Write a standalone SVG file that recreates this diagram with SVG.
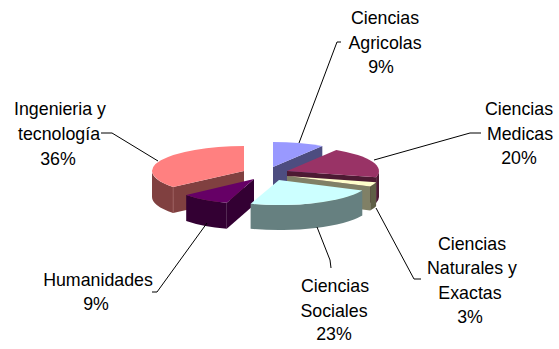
<svg xmlns="http://www.w3.org/2000/svg" width="559" height="349" viewBox="0 0 559 349">
<style>
text{font-family:"Liberation Sans",Arial,sans-serif;font-size:17.8px;fill:#000;text-anchor:middle}
.ld{fill:none;stroke:#000;stroke-width:1}
</style>
<rect width="559" height="349" fill="#fff"/>
<g id="agricolas">
<path d="M273,167 L322.3,145.9 L322.3,171 L273,192 Z" fill="#4D4D80"/>
<path d="M273,167 L273,142 A92,25 0 0 1 322.3,145.9 Z" fill="#9999FF"/>
</g>
<g id="ingenieria">
<path d="M173.1,186.9 A92,25 0 0 1 152,171 L152,197 A92,25 0 0 0 173.1,212.9 Z" fill="#804040"/>
<path d="M244,171 L173.1,186.9 L173.1,212.9 L244,197 Z" fill="#804040"/>
<line x1="173.1" y1="187" x2="173.1" y2="212.9" stroke="#a06060" stroke-width="0.8"/>
<path d="M244,171 L173.1,186.9 A92,25 0 0 1 244,146 Z" fill="#FF8080"/>
</g>
<g id="medicas">
<path d="M287,171 L376.1,177.2 L376.1,203 L287,197 Z" fill="#4D1A33"/>
<path d="M379,171 A92,25 0 0 1 376.1,177.2 L376.1,203 A92,25 0 0 0 379,197 Z" fill="#4D1A33"/>
<path d="M287,171 L336.3,149.9 A92,25 0 0 1 376.1,177.2 Z" fill="#993366"/>
</g>
<g id="naturales">
<path d="M287,176 L370.2,186.6 L370.2,210.6 L287,200 Z" fill="#808066"/>
<path d="M376.1,182.2 A92,25 0 0 1 370.2,186.6 L370.2,210.6 A92,25 0 0 0 376.1,206.2 Z" fill="#5E5E45"/>
<path d="M287,176 L376.1,182.2 A92,25 0 0 1 370.2,186.6 Z" fill="#FFFFCC"/>
</g>
<g id="humanidades">
<path d="M254,179 L226.8,202.8 L226.8,228.8 L254,205 Z" fill="#330033"/>
<path d="M226.8,202.8 A88,24 0 0 1 186.2,194.9 L186.2,220.9 A88,24 0 0 0 226.8,228.8 Z" fill="#330033"/>
<path d="M254,179 L226.8,202.8 A88,24 0 0 1 186.2,194.9 Z" fill="#660066"/>
</g>
<g id="sociales">
<path d="M362.3,190.6 A92,25 0 0 1 250.6,203.8 L250.6,228.8 A92,25 0 0 0 362.3,215.6 Z" fill="#668080"/>
<path d="M279,180 L362.3,190.6 A92,25 0 0 1 250.6,203.8 Z" fill="#CCFFFF"/>
</g>
<g id="connectors">
<polyline class="ld" points="341,42 337,42 299,143"/>
<polyline class="ld" points="481,133 470,133 374,160"/>
<polyline class="ld" points="101,133 112,133 158,161"/>
<polyline class="ld" points="152,292 157,292 207,223"/>
<polyline class="ld" points="317,227 330,260 331,268"/>
<polyline class="ld" points="376,208 414,279 421,279"/>
</g>
<g id="labels">
<text x="385" y="23.5">Ciencias</text>
<text x="385" y="48.5">Agricolas</text>
<text x="381" y="73">9%</text>
<text x="60" y="115">Ingenieria y</text>
<text x="59" y="140">tecnología</text>
<text x="58" y="165">36%</text>
<text x="519" y="115">Ciencias</text>
<text x="520" y="139.5">Medicas</text>
<text x="519" y="164">20%</text>
<text x="472" y="250">Ciencias</text>
<text x="472" y="274.3">Naturales y</text>
<text x="470" y="299">Exactas</text>
<text x="470" y="323.3">3%</text>
<text x="335" y="291.5">Ciencias</text>
<text x="334" y="316.5">Sociales</text>
<text x="334" y="340">23%</text>
<text x="98" y="286">Humanidades</text>
<text x="96" y="310">9%</text>
</g>
</svg>
